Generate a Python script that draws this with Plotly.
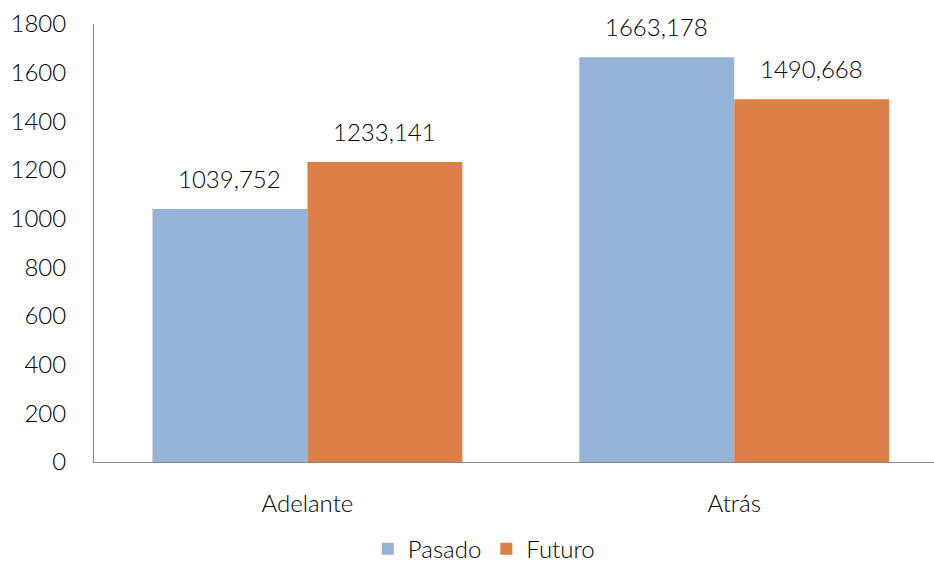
import plotly.graph_objects as go

categories = ["Adelante", "Atrás"]
pasado = [1039.752, 1663.178]
futuro = [1233.141, 1490.668]
series_names = ["Pasado", "Futuro"]
y_ticks = [0, 200, 400, 600, 800, 1000, 1200, 1400, 1600, 1800]

colors = ["#95B3D7", "#DD8047"]
FONT = "Century Gothic, Lato, sans-serif"
FS = 24
W = 300
bargap = 0.274
bar_w = (1 - bargap) / 2

def fmt(v):
    return f"{v:.3f}".replace(".", ",")

x_pos = list(range(len(categories)))
fig = go.Figure()
for name, vals, col in zip(series_names, [pasado, futuro], colors):
    fig.add_trace(go.Bar(x=x_pos, y=vals, name=name, marker_color=col,
                         marker_line_width=0))

annotations = []
for k, vals in enumerate([pasado, futuro]):
    off = -bar_w / 2 if k == 0 else bar_w / 2
    for i, v in enumerate(vals):
        annotations.append(dict(x=x_pos[i] + off, y=v, xref="x", yref="y",
                                text=fmt(v), showarrow=False, yanchor="bottom",
                                yshift=14, font=dict(family=FONT, size=FS, weight=W, color="#000000")))

fig.update_layout(
    width=934, height=565,
    margin=dict(l=93.5, r=0, t=24, b=103, autoexpand=False),
    paper_bgcolor="white", plot_bgcolor="white",
    barmode="group", bargap=bargap, bargroupgap=0,
    font=dict(family=FONT, size=FS, weight=W, color="#000000"),
    annotations=annotations,
    showlegend=True,
    legend=dict(orientation="h", x=0.518, xanchor="center", xref="container",
                y=0.028, yanchor="middle", yref="container",
                font=dict(family=FONT, size=FS, weight=W), itemwidth=30, traceorder="normal"),
    xaxis=dict(tickmode="array", tickvals=x_pos, ticktext=categories,
               range=[-0.5, 1.468], showline=True, linecolor="#868686", linewidth=1,
               showgrid=False, zeroline=False, ticks="", ticklabelstandoff=20,
               automargin=False, tickfont=dict(family=FONT, size=FS, weight=W)),
    yaxis=dict(range=[0, 1800], tickmode="array", tickvals=y_ticks,
               showline=True, linecolor="#868686", linewidth=1, showgrid=False,
               zeroline=False, ticks="", ticklabelstandoff=22, automargin=False,
               tickfont=dict(family=FONT, size=FS, weight=W)),
)

fig.write_html("out.html")
